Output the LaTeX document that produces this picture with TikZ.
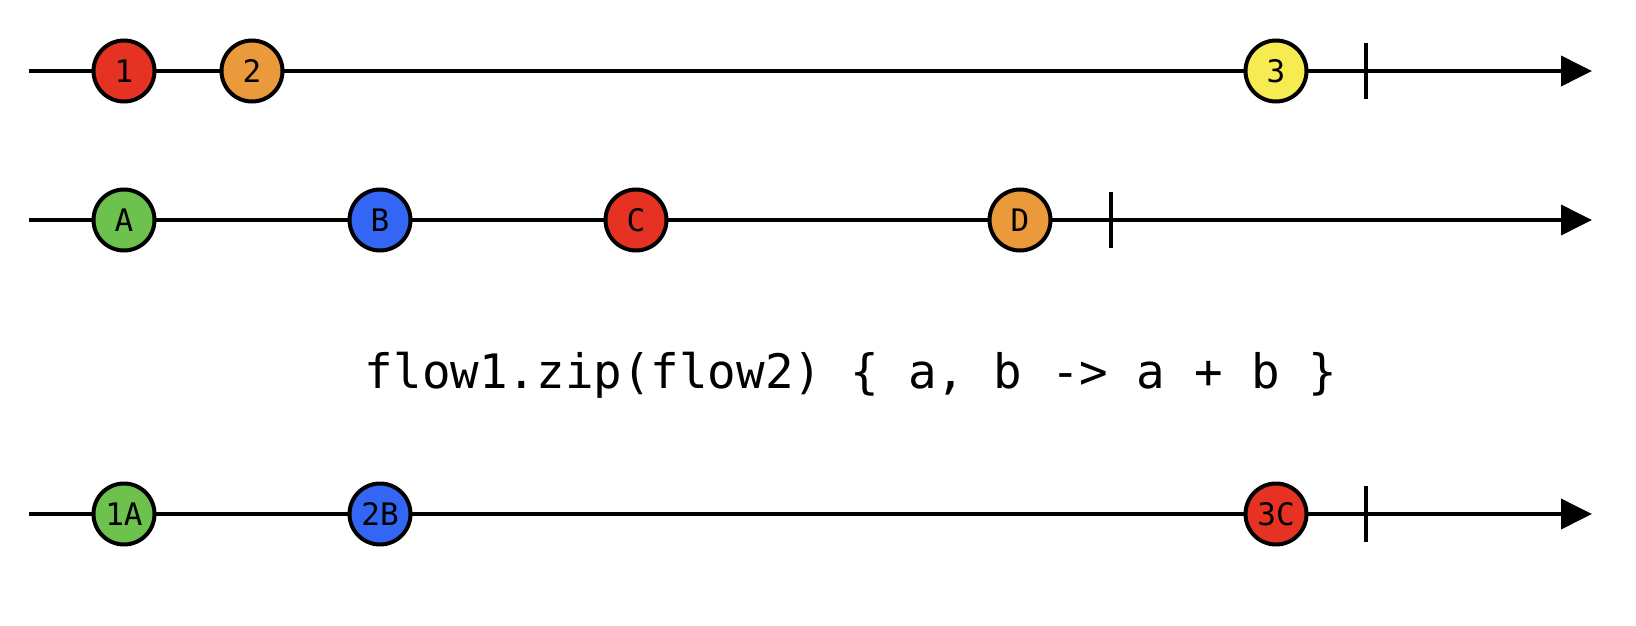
\documentclass[tikz,border=0pt]{standalone}
\usepackage{fontspec}
\setmonofont{DejaVu Sans Mono}
\usetikzlibrary{arrows.meta}
\definecolor{mred}{RGB}{229,50,35}
\definecolor{morange}{RGB}{234,154,58}
\definecolor{myellow}{RGB}{246,236,82}
\definecolor{mgreen}{RGB}{108,194,76}
\definecolor{mblue}{RGB}{51,102,245}
\tikzset{
  axis/.style={line width=3.8pt, -{Triangle[length=31pt,width=30pt]}},
  endtick/.style={line width=3.5pt},
  marble/.style={circle, draw=black, line width=4pt, minimum size=61pt, inner sep=0pt,
    font=\ttfamily\fontsize{31}{31}\selectfont},
}
\begin{document}
\begin{tikzpicture}[x=1pt,y=-1pt]
\useasboundingbox (0,0) rectangle (1636,626);
% row 1
\coordinate (s1) at (29,71);
\coordinate (e1) at (1592,71);
\draw[axis] (s1) -- (e1);
\coordinate (t1a) at (1366,43);
\coordinate (t1b) at (1366,99);
\draw[endtick] (t1a) -- (t1b);
\node[marble, fill=mred] (n1) at (124,71) {1};
\node[marble, fill=morange] (n2) at (252,71) {2};
\node[marble, fill=myellow] (n3) at (1276,71) {3};
% row 2
\coordinate (s2) at (29,220);
\coordinate (e2) at (1592,220);
\draw[axis] (s2) -- (e2);
\coordinate (t2a) at (1111,192);
\coordinate (t2b) at (1111,248);
\draw[endtick] (t2a) -- (t2b);
\node[marble, fill=mgreen] (nA) at (124,220) {A};
\node[marble, fill=mblue] (nB) at (380,220) {B};
\node[marble, fill=mred] (nC) at (636,220) {C};
\node[marble, fill=morange] (nD) at (1020,220) {D};
% operator
\node[anchor=base, inner sep=0pt, font=\ttfamily\fontsize{47.5}{50}\selectfont] (op) at (851,388) {flow1.zip(flow2) \{ a, b -> a + b \}};
% row 3
\coordinate (s3) at (29,514);
\coordinate (e3) at (1592,514);
\draw[axis] (s3) -- (e3);
\coordinate (t3a) at (1366,486);
\coordinate (t3b) at (1366,542);
\draw[endtick] (t3a) -- (t3b);
\node[marble, fill=mgreen] (n1A) at (124,514) {1A};
\node[marble, fill=mblue] (n2B) at (380,514) {2B};
\node[marble, fill=mred] (n3C) at (1276,514) {3C};
\end{tikzpicture}
\end{document}
